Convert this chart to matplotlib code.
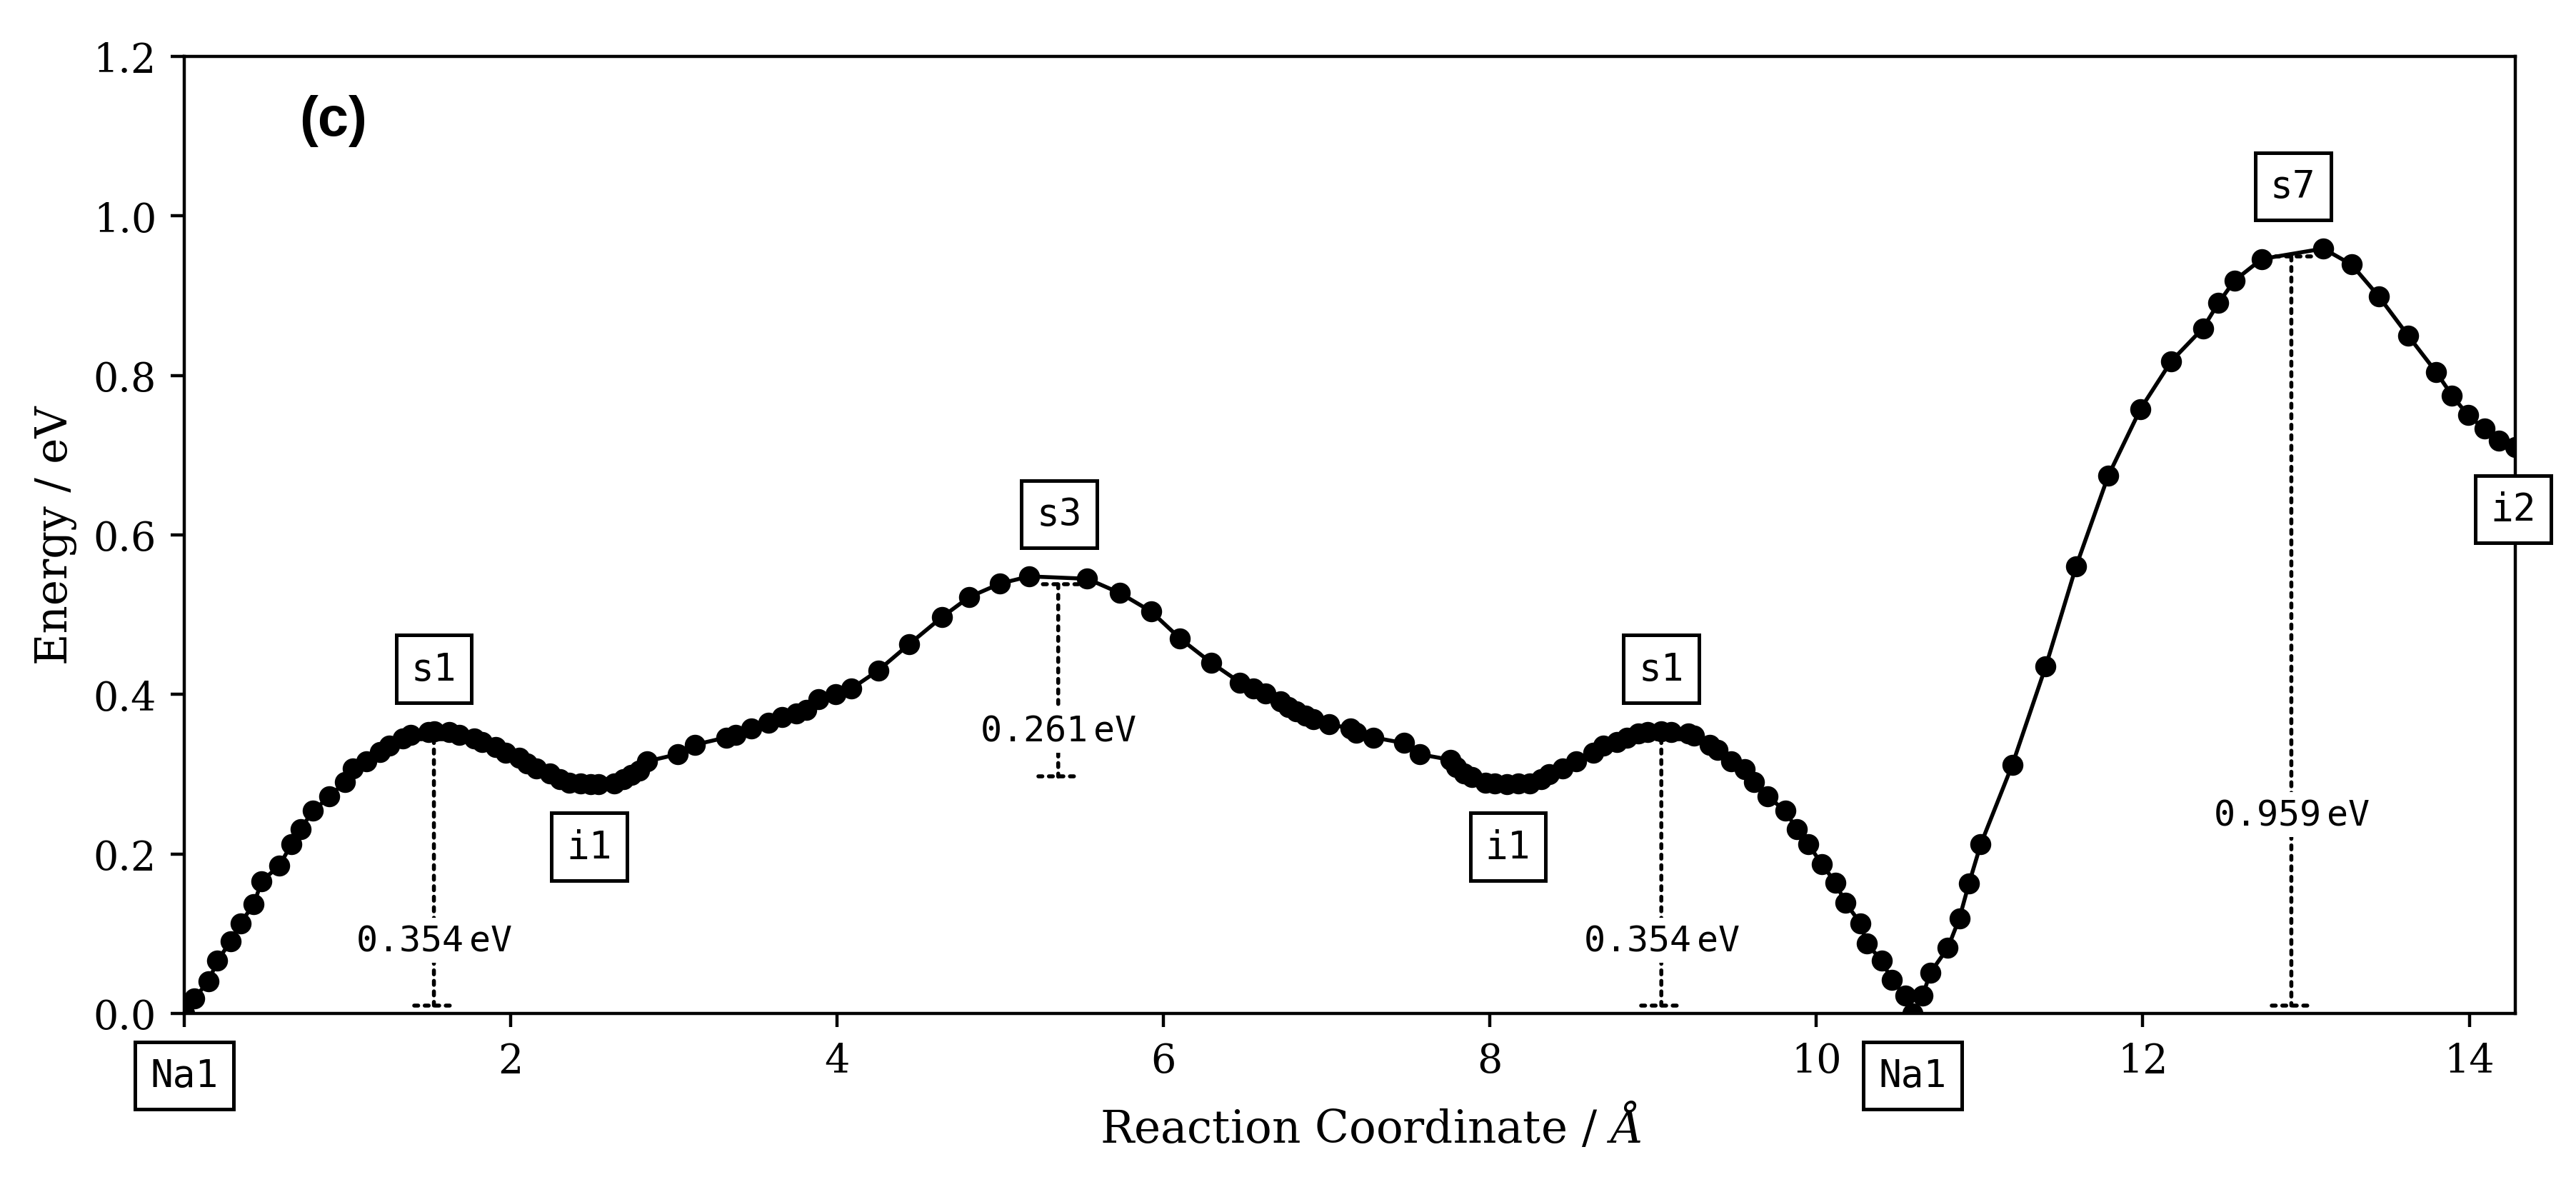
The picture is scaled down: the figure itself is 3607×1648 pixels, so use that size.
import matplotlib
matplotlib.use("Agg")
import matplotlib.pyplot as plt

# ---------------- data ----------------
# reaction coordinate (Angstrom) and energy (eV) of the NEB images
coord = [0.0, 0.060, 0.150, 0.202, 0.285, 0.344, 0.427, 0.475, 0.582, 0.657,
         0.712, 0.790, 0.890, 0.985, 1.032, 1.115, 1.198, 1.257, 1.340, 1.388,
         1.495, 1.530, 1.625, 1.684, 1.779, 1.827, 1.910, 1.969, 2.052, 2.099,
         2.158, 2.241, 2.301, 2.360, 2.431, 2.491, 2.538, 2.633, 2.692, 2.740,
         2.787, 2.834, 3.024, 3.131, 3.320, 3.380, 3.475, 3.581, 3.664,
         3.750, 3.810, 3.885, 3.991, 4.086, 4.252, 4.442, 4.643, 4.809, 4.999,
         5.177, 5.533, 5.734, 5.924, 6.102, 6.291, 6.469, 6.552, 6.623, 6.718,
         6.766, 6.813, 6.872, 6.920, 7.015, 7.145, 7.181, 7.287,
         7.473, 7.568, 7.758, 7.793, 7.841, 7.888, 7.971, 8.030, 8.102, 8.173,
         8.244, 8.315, 8.362, 8.445, 8.528, 8.635, 8.694, 8.777, 8.837, 8.908,
         8.967, 9.050, 9.109, 9.216, 9.252, 9.346, 9.394, 9.477, 9.560, 9.619,
         9.702, 9.809, 9.880, 9.951, 10.034, 10.117, 10.177, 10.271, 10.307,
         10.402, 10.461, 10.544, 10.590, 10.651, 10.698, 10.805, 10.876, 10.935,
         11.007, 11.201, 11.405, 11.592, 11.788, 11.986, 12.175, 12.368, 12.464,
         12.562, 12.729, 13.106, 13.279, 13.446, 13.625, 13.798, 13.894, 13.992,
         14.093, 14.181, 14.280]
energy = [0.000, 0.019, 0.040, 0.066, 0.090, 0.113, 0.137, 0.166, 0.185, 0.212,
          0.231, 0.254, 0.272, 0.290, 0.307, 0.316, 0.328, 0.336, 0.345, 0.349,
          0.353, 0.354, 0.353, 0.349, 0.345, 0.340, 0.334, 0.327, 0.321, 0.313,
          0.307, 0.301, 0.294, 0.289, 0.288, 0.287, 0.287, 0.288, 0.294, 0.299,
          0.304, 0.316, 0.325, 0.337, 0.346, 0.349, 0.357, 0.364, 0.372,
          0.376, 0.381, 0.394, 0.400, 0.407, 0.430, 0.463, 0.497, 0.522, 0.539,
          0.548, 0.545, 0.527, 0.504, 0.470, 0.440, 0.415, 0.407, 0.401, 0.391,
          0.384, 0.379, 0.373, 0.369, 0.363, 0.357, 0.352, 0.346,
          0.339, 0.325, 0.318, 0.309, 0.301, 0.296, 0.289, 0.288, 0.287, 0.288,
          0.288, 0.294, 0.300, 0.307, 0.316, 0.327, 0.336, 0.340, 0.346, 0.351,
          0.353, 0.354, 0.353, 0.351, 0.348, 0.337, 0.330, 0.316, 0.306, 0.290,
          0.272, 0.254, 0.231, 0.212, 0.187, 0.164, 0.139, 0.113, 0.088,
          0.066, 0.042, 0.022, 0.000, 0.022, 0.051, 0.082, 0.119, 0.163,
          0.212, 0.312, 0.435, 0.561, 0.674, 0.758, 0.818, 0.859, 0.891,
          0.919, 0.946, 0.959, 0.939, 0.899, 0.850, 0.804, 0.775, 0.750,
          0.733, 0.718, 0.710]

# site labels along the path
site_names = ['Na1', 's1', 'i1', 's3', 'i1', 's1', 'Na1', 's7', 'i2']
site_x = [0.0, 1.53, 2.48, 5.36, 8.11, 9.05, 10.59, 12.92, 14.27]
site_e = [0.0, 0.354, 0.287, 0.548, 0.287, 0.354, 0.0, 0.959, 0.71]

# barrier markers: position, lower and upper energy
bar_x = [1.53, 5.355, 9.05, 12.91]
bar_lo = [0.0, 0.287, 0.0, 0.0]
bar_hi = [0.354, 0.548, 0.354, 0.959]

plt.rcParams['font.family'] = 'DejaVu Serif'
plt.rcParams['mathtext.fontset'] = 'dejavuserif'
plt.rcParams['font.size'] = 10

fig = plt.figure(figsize=(3607 / 400, 1649 / 400), dpi=400)
ax = fig.add_axes([0.0715, 0.1389, 0.9048, 0.8126])

ax.plot(coord, energy, 'o-', color='black', ms=4.3, lw=1.0)

# barriers
for x, lo, hi in zip(bar_x, bar_lo, bar_hi):
    ax.annotate('', xy=(x, lo), xytext=(x, hi),
                arrowprops=dict(arrowstyle='|-|,widthA=0.5,widthB=0.5', linestyle=':',
                                color='black', lw=1))
    ax.text(x, lo + 0.26 * (hi - lo), f'{hi - lo:.3f}$\\,$eV', ha='center', va='center',
            family='DejaVu Sans Mono', fontsize=9,
            bbox=dict(boxstyle='square,pad=0.15', fc='white', ec='none'))

# site boxes: saddles above the curve, minima below
for name, x, e in zip(site_names, site_x, site_e):
    off = 0.078 if name.startswith('s') else -0.078
    ax.text(x, e + off, name, ha='center', va='center', family='DejaVu Sans Mono',
            fontsize=9.5, clip_on=False, zorder=5,
            bbox=dict(boxstyle='square,pad=0.4', fc='white', ec='black', lw=0.9))

ax.text(0.064, 0.933, '(c)', transform=ax.transAxes, ha='center', va='center',
        family='Liberation Sans', fontweight='bold', fontsize=14)

ax.set_xlim(0, 14.28)
ax.set_ylim(0, 1.2)
ax.set_xticks(range(0, 15, 2))
ax.set_xticklabels(['', '2', '4', '6', '8', '10', '12', '14'])
ax.set_yticks([0.0, 0.2, 0.4, 0.6, 0.8, 1.0, 1.2])
ax.set_xlabel(r'Reaction Coordinate / $\AA$', fontsize=11.3, labelpad=5.5)
ax.xaxis.label.set_x(0.509)
ax.set_ylabel('Energy / eV', fontsize=11)

fig.savefig('out.png', dpi=400)
